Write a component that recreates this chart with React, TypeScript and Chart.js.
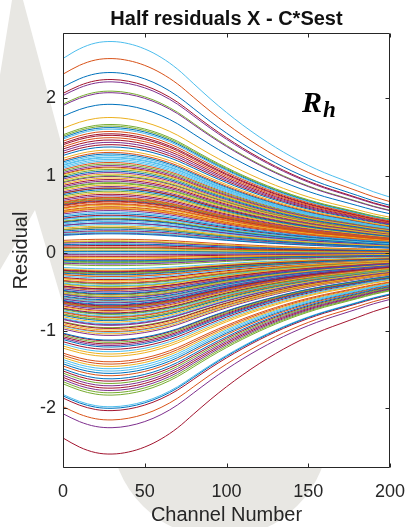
import React, { useEffect, useRef } from "react";
import { Chart, registerables } from "chart.js";

Chart.register(...registerables);

// Channel positions where the residual curves are sampled
const channels = [0, 10, 20, 30, 40, 50, 60, 70, 80, 90, 100, 110, 120, 130, 140, 150, 160, 170, 180, 190, 200];

// Common shape of every residual curve, relative to its value at the peak (channel 30)
const profile = [0.92, 0.965, 0.993, 1.0, 0.99, 0.965, 0.925, 0.87, 0.8, 0.73, 0.665, 0.605, 0.55, 0.5, 0.455, 0.415, 0.38, 0.35, 0.32, 0.29, 0.265];

// Peak residual of each curve, in plotting order (rows of seven follow the colour order)
const peakResiduals = [
  2.33, 2.51, 1.75, 2.07, 2.09, 2.73, 2.24,
  1.92, 1.57, 1.33, 2.21, 1.66, 1.6, 1.54,
  1.62, 1.49, 1.1, 1.43, 1.64, 1.23, 1.52,
  1.37, 1.3, 0.97, 1.13, 1.15, 1.21, 1.46,
  1.06, 0.72, 0.88, 1.04, 1.08, 1.19, 1.4,
  0.82, 0.69, 0.78, 0.93, 1.0, 1.24, 1.11,
  0.51, 0.66, 0.62, 0.86, 0.91, 0.47, 0.95,
  0.43, 0.63, 0.35, 0.74, 0.8, 0.53, 0.84,
  0.31, 0.6, 0.16, 0.39, 0.7, 0.41, 0.67,
  0.25, 0.57, 0.04, 0.29, 0.45, 0.37, 0.49,
  0.12, 0.18, -0.06, 0.14, 0.33, 0.27, 0.1,
  0.02, 0.08, -0.22, -0.02, 0.06, 0.0, -0.04,
  -0.1, -0.08, -0.36, -0.14, -0.12, -0.2, -0.24,
  -0.28, -0.3, -0.44, -0.5, -0.26, -0.32, -0.34,
  -0.52, -0.38, -0.56, -0.58, -0.4, -0.42, -0.46,
  -0.6, -0.48, -0.75, -0.64, -0.54, -0.62, -0.68,
  -0.66, -0.7, -0.89, -0.72, -0.79, -0.81, -0.77,
  -0.87, -0.83, -0.99, -0.93, -0.85, -0.91, -0.97,
  -1.12, -1.01, -1.04, -1.06, -1.15, -1.27, -1.17,
  -1.21, -1.4, -1.3, -1.19, -1.68, -1.49, -1.24,
  -1.62, -1.58, -1.33, -1.71, -1.8, -1.52, -1.65,
  -2.0, -2.15, -1.46, -1.77, -1.83, -1.98, -1.74,
  -1.55, -1.43, -0.3, -2.25, -0.16, -0.64, -2.03,
  -0.56, 0.64, 0.58, -0.46, -0.7, -0.5, -2.59,
  1.28, 1.17, 1.02, 0.99, 0.9, 1.26, 0.76,
  0.68, 0.71, 0.59, 0.55, 0.84, 0.48, 0.44,
  0.39, 0.33, 0.28, 0.26, 0.15, 0.11, 0.07,
  0.03, -0.01, -0.05, -0.09, -0.11, -0.13, -0.23,
  -0.25, -0.27, -0.35, -0.39, -0.43, -0.47, -0.53,
  -0.57, -0.61, -0.63, -0.67, -0.69, -0.71, -0.74,
  -0.78, -0.82, -0.86, -0.92, -0.96, -1.02, -1.13,
];

const xTicks = [0, 50, 100, 150, 200];
const yTicks = [-2, -1, 0, 1, 2];

const lineColors = ["#0072BD", "#D95319", "#EDB120", "#7E2F8E", "#77AC30", "#4DBEEE", "#A2142F"];

const sans = "'Liberation Sans', Arial, Helvetica, sans-serif";
const axisInk = "#262626";

// Light grey shapes behind the figure, with a white plotting area on top
const backdrop = {
  id: "backdrop",
  beforeDraw(chart: any) {
    const { ctx, chartArea: a, width, height } = chart;
    ctx.save();
    ctx.fillStyle = "#ffffff";
    ctx.fillRect(0, 0, width, height);
    ctx.fillStyle = "#e8e7e3";
    ctx.beginPath();
    ctx.moveTo(12, 0);
    ctx.lineTo(23, 0);
    ctx.lineTo(63, 150);
    ctx.lineTo(63, 305);
    ctx.lineTo(35, 210);
    ctx.lineTo(0, 270);
    ctx.lineTo(0, 75);
    ctx.closePath();
    ctx.fill();
    ctx.beginPath();
    ctx.arc(220, 429, 109, 0, Math.PI * 2);
    ctx.fill();
    ctx.fillStyle = "#ffffff";
    ctx.fillRect(a.left, a.top, a.right - a.left, a.bottom - a.top);
    ctx.restore();
  },
};

// Axes box with inward tick marks on all four sides, plus the R_h label
const frame = {
  id: "frame",
  afterDraw(chart: any) {
    const { ctx, chartArea: a, scales } = chart;
    const L = Math.round(a.left) + 0.5;
    const R = Math.round(a.right) - 0.5;
    const T = Math.round(a.top) + 0.5;
    const B = Math.round(a.bottom) - 0.5;
    const tick = 4;
    ctx.save();
    ctx.strokeStyle = axisInk;
    ctx.lineWidth = 1;
    ctx.beginPath();
    ctx.rect(L, T, R - L, B - T);
    for (const v of xTicks) {
      const px = Math.round(scales.x.getPixelForValue(v)) + 0.5;
      ctx.moveTo(px, B);
      ctx.lineTo(px, B - tick);
      ctx.moveTo(px, T);
      ctx.lineTo(px, T + tick);
    }
    for (const v of yTicks) {
      const py = Math.round(scales.y.getPixelForValue(v)) + 0.5;
      ctx.moveTo(L, py);
      ctx.lineTo(L + tick, py);
      ctx.moveTo(R, py);
      ctx.lineTo(R - tick, py);
    }
    ctx.stroke();

    ctx.fillStyle = "#000";
    ctx.textBaseline = "alphabetic";
    ctx.textAlign = "left";
    ctx.font = "bold italic 30px 'Liberation Serif', 'Times New Roman', serif";
    ctx.fillText("R", 302, 112);
    const rw = ctx.measureText("R").width;
    ctx.font = "bold italic 23px 'Liberation Serif', 'Times New Roman', serif";
    ctx.fillText("h", 302 + rw + 1, 117);
    ctx.restore();
  },
};

export default function App() {
  const canvasRef = useRef<HTMLCanvasElement | null>(null);

  useEffect(() => {
    const canvas = canvasRef.current;
    if (!canvas) return;

    const datasets = peakResiduals.map((peak, i) => ({
      label: `Curve ${i + 1}`,
      data: channels.map((c, k) => ({ x: c, y: peak * profile[k] })),
      borderColor: lineColors[i % lineColors.length],
      borderWidth: 1,
      pointRadius: 0,
      tension: 0.35,
      fill: false,
    }));

    const chart = new Chart(canvas, {
      type: "line",
      data: { datasets },
      plugins: [backdrop, frame],
      options: {
        animation: false,
        responsive: false,
        devicePixelRatio: 1,
        events: [],
        layout: { padding: { left: 0, right: 17, top: 0, bottom: 0 } },
        plugins: {
          legend: { display: false },
          tooltip: { enabled: false },
          title: {
            display: true,
            text: "Half residuals X - C*Sest",
            fullSize: false,
            color: "#111",
            font: { family: sans, size: 20, weight: "bold", lineHeight: 1.2 },
            padding: { top: 7, bottom: 2 },
          },
        },
        scales: {
          x: {
            type: "linear",
            min: 0,
            max: 200,
            grid: { display: false, drawTicks: false },
            border: { display: false },
            afterBuildTicks: (s: any) => {
              s.ticks = xTicks.map((v) => ({ value: v }));
            },
            afterFit: (s: any) => {
              s.height = 59;
              s.paddingLeft = 0;
              s.paddingRight = 0;
            },
            ticks: {
              color: axisInk,
              padding: 13,
              maxRotation: 0,
              autoSkip: false,
              font: { family: sans, size: 18 },
            },
            title: {
              display: true,
              text: "Channel Number",
              color: axisInk,
              font: { family: sans, size: 20, lineHeight: 1.2 },
              padding: { top: 0, bottom: 0 },
            },
          },
          y: {
            type: "linear",
            min: -2.77,
            max: 2.84,
            grid: { display: false, drawTicks: false },
            border: { display: false },
            afterBuildTicks: (s: any) => {
              s.ticks = yTicks.map((v) => ({ value: v }));
            },
            afterFit: (s: any) => {
              s.width = 63;
              s.paddingTop = 0;
              s.paddingBottom = 0;
            },
            ticks: {
              color: axisInk,
              padding: 7,
              autoSkip: false,
              font: { family: sans, size: 18 },
            },
            title: {
              display: true,
              text: "Residual",
              color: axisInk,
              font: { family: sans, size: 20, lineHeight: 1.2 },
              padding: { top: 9, bottom: 0 },
            },
          },
        },
      },
    });

    return () => chart.destroy();
  }, []);

  return (
    <div style={{ position: "fixed", left: 0, top: 0, width: 407, height: 527, background: "#fff" }}>
      <canvas ref={canvasRef} width={407} height={527} style={{ display: "block" }} />
    </div>
  );
}
